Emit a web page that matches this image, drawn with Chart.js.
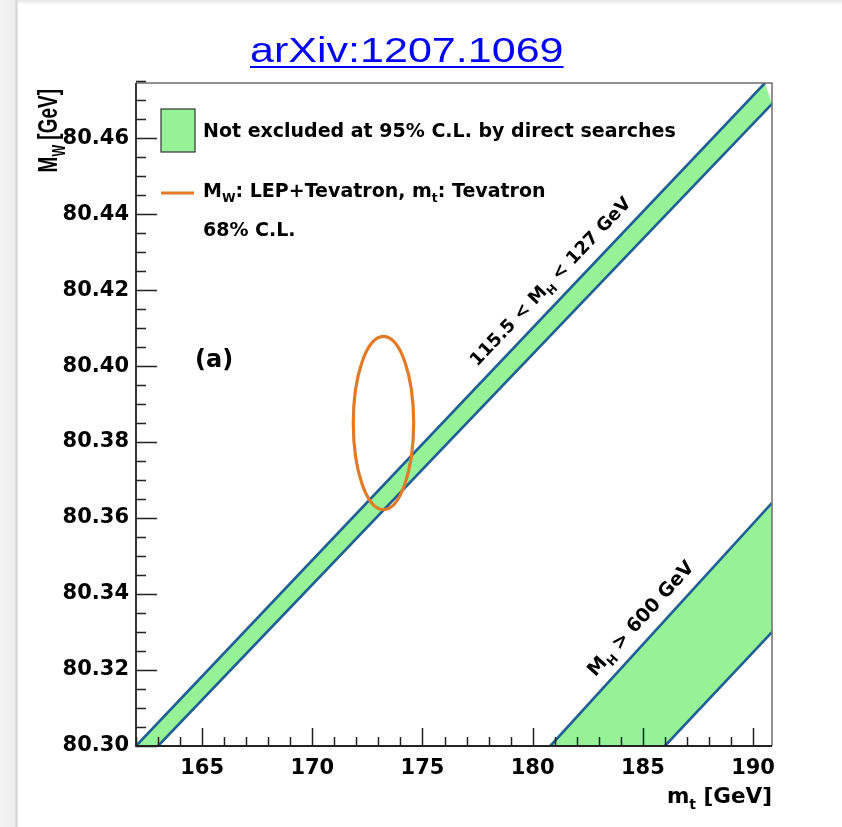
<!DOCTYPE html>
<html>
<head>
<meta charset="utf-8">
<script src="https://cdn.jsdelivr.net/npm/chart.js@4.4.1/dist/chart.umd.min.js"></script>
<style>
  html, body { margin: 0; padding: 0; background: #ffffff; }
  #wrap { position: relative; width: 842px; height: 827px; overflow: hidden; background: #fff; }
  #shadeTop { position: absolute; left: 0; top: 0; width: 842px; height: 5px; background: linear-gradient(#e6e6e6, #ffffff); }
  #shadeLeft { position: absolute; left: 0; top: 0; width: 18px; height: 827px; background: linear-gradient(90deg, #f4f4f4, #ececec 80%, #d0d0d0 95%, #ffffff); }
  #chartBox { position: absolute; left: 0; top: 0; width: 842px; height: 827px; }
  #title { position: absolute; left: 250px; top: 32px; font-family: "Liberation Sans", Arial, sans-serif; font-size: 35px; line-height: 35px; color: #0000ff; text-decoration: underline; text-decoration-thickness: 2px; text-underline-offset: 4px; white-space: nowrap; transform: scaleX(1.23); transform-origin: left top; }
</style>
</head>
<body>
<div id="wrap">
  <div id="shadeTop"></div>
  <div id="shadeLeft"></div>
  <div id="chartBox"><canvas id="c"></canvas></div>
  <div id="title">arXiv:1207.1069</div>
</div>
<script>
// ---------------- data ----------------
const mtRange = [162.0, 190.86];          // x axis (m_t, GeV)
const mwRange = [80.30, 80.4745];         // y axis (M_W, GeV)
const xTickValues = [165, 170, 175, 180, 185, 190];
const yTickValues = [80.30, 80.32, 80.34, 80.36, 80.38, 80.40, 80.42, 80.44, 80.46];
const xMinorStep = 1;
const yMinorStep = 0.005;

// 115.5 < M_H < 127 GeV band edges
const lightBandUpper = [{x: 162.0, y: 80.300}, {x: 190.54, y: 80.4745}];
const lightBandLower = [{x: 163.0, y: 80.300}, {x: 190.86, y: 80.4690}];
// M_H > 600 GeV band edges
const heavyBandUpper = [{x: 180.8, y: 80.300}, {x: 190.86, y: 80.364}];
const heavyBandLower = [{x: 186.0, y: 80.300}, {x: 190.86, y: 80.330}];
// 68% C.L. ellipse: centre and half-axes
const ellipseCentre = {mt: 173.23, mw: 80.385};
const ellipseHalfAxes = {mt: 1.37, mw: 0.0228};
// label anchor points (data coordinates)
const lightLabelAt = {mt: 180.78, mw: 80.4224};
const heavyLabelAt = {mt: 184.87, mw: 80.3337};

const GREEN = '#96f296';
const EDGE = '#1e5f96';
const ORANGE = '#e27a28';
const FONT = '"DejaVu Sans", "Liberation Sans", sans-serif';
const HFONT = '"Liberation Sans", Arial, sans-serif';

function polygon(upper, lower) {
  const pts = upper.concat(lower.slice().reverse());
  return pts;
}

// draw text with subscripts: parts = [[text, isSub], ...]
function richWidth(ctx, parts, size, fam) {
  let w = 0;
  for (const [t, sub] of parts) {
    ctx.font = 'bold ' + (sub ? size * 0.65 : size) + 'px ' + (fam || FONT);
    w += ctx.measureText(t).width;
  }
  return w;
}
function richText(ctx, parts, x, y, size, align, fam) {
  const w = richWidth(ctx, parts, size, fam);
  let cx = align === 'right' ? x - w : (align === 'center' ? x - w / 2 : x);
  ctx.textAlign = 'left';
  ctx.textBaseline = 'alphabetic';
  for (const [t, sub] of parts) {
    const s = sub ? size * 0.65 : size;
    ctx.font = 'bold ' + s + 'px ' + (fam || FONT);
    ctx.fillText(t, cx, sub ? y + size * 0.28 : y);
    cx += ctx.measureText(t).width;
  }
}

const decorPlugin = {
  id: 'decor',
  afterDatasetsDraw(chart) {
    const ctx = chart.ctx;
    const xs = chart.scales.x, ys = chart.scales.y;
    const a = chart.chartArea;
    ctx.save();
    ctx.beginPath();
    ctx.rect(a.left, a.top, a.right - a.left, a.bottom - a.top);
    ctx.clip();
    // ellipse
    const cx = xs.getPixelForValue(ellipseCentre.mt);
    const cy = ys.getPixelForValue(ellipseCentre.mw);
    const rx = Math.abs(xs.getPixelForValue(ellipseCentre.mt + ellipseHalfAxes.mt) - cx);
    const ry = Math.abs(ys.getPixelForValue(ellipseCentre.mw + ellipseHalfAxes.mw) - cy);
    ctx.beginPath();
    ctx.ellipse(cx, cy, rx, ry, 0, 0, Math.PI * 2);
    ctx.strokeStyle = ORANGE;
    ctx.lineWidth = 3.2;
    ctx.stroke();
    ctx.restore();
  },
  afterDraw(chart) {
    const ctx = chart.ctx;
    const xs = chart.scales.x, ys = chart.scales.y;
    const a = chart.chartArea;
    ctx.save();
    // frame
    ctx.strokeStyle = '#6e6e6e';
    ctx.lineWidth = 1.5;
    ctx.beginPath();
    ctx.moveTo(a.left, a.top); ctx.lineTo(a.right, a.top); ctx.lineTo(a.right, a.bottom);
    ctx.stroke();
    ctx.strokeStyle = '#222';
    ctx.lineWidth = 1.8;
    ctx.beginPath();
    ctx.moveTo(a.left, a.top); ctx.lineTo(a.left, a.bottom); ctx.lineTo(a.right, a.bottom);
    ctx.stroke();
    // ticks (inside, ROOT style)
    ctx.strokeStyle = '#222';
    ctx.lineWidth = 1.5;
    ctx.beginPath();
    const x0 = Math.ceil(mtRange[0]);
    for (let v = x0; v <= mtRange[1] + 1e-9; v += xMinorStep) {
      const px = Math.round(xs.getPixelForValue(v)) + 0.5;
      const major = xTickValues.indexOf(v) >= 0;
      ctx.moveTo(px, a.bottom);
      ctx.lineTo(px, a.bottom - (major ? 18 : 9));
    }
    const nMinor = Math.round((mwRange[1] - mwRange[0]) / yMinorStep);
    for (let i = 0; i <= nMinor; i++) {
      const v = mwRange[0] + i * yMinorStep;
      const py = Math.round(ys.getPixelForValue(v)) + 0.5;
      const major = (i % 4) === 0;
      ctx.moveTo(a.left, py);
      ctx.lineTo(a.left + (major ? 21 : 10), py);
    }
    ctx.stroke();

    ctx.fillStyle = '#000';
    // axis titles
    richText(ctx, [['m', false], ['t', true], [' [GeV]', false]], a.right, 803, 21.5, 'right');
    ctx.save();
    ctx.translate(57, 89);
    ctx.rotate(-Math.PI / 2);
    ctx.scale(1, 1.5);
    richText(ctx, [['M', false], ['W', true], [' [GeV]', false]], 0, 0, 19, 'right', HFONT);
    ctx.restore();

    // legend
    ctx.fillStyle = GREEN;
    ctx.fillRect(161, 109, 34, 43);
    ctx.strokeStyle = '#333';
    ctx.lineWidth = 1.2;
    ctx.strokeRect(161, 109, 34, 43);
    ctx.fillStyle = '#000';
    richText(ctx, [['Not excluded at 95% C.L. by direct searches', false]], 203, 137, 19, 'left');
    ctx.strokeStyle = ORANGE;
    ctx.lineWidth = 3;
    ctx.beginPath();
    ctx.moveTo(161, 193); ctx.lineTo(194, 193);
    ctx.stroke();
    richText(ctx, [['M', false], ['W', true], [': LEP+Tevatron, m', false], ['t', true], [': Tevatron', false]], 203, 197, 19, 'left');
    richText(ctx, [['68% C.L.', false]], 203, 236, 19, 'left');
    richText(ctx, [['(a)', false]], 195, 367, 24, 'left');

    // rotated band labels
    function bandLabel(parts, at, edge, size) {
      const p1x = xs.getPixelForValue(edge[0].x), p1y = ys.getPixelForValue(edge[0].y);
      const p2x = xs.getPixelForValue(edge[1].x), p2y = ys.getPixelForValue(edge[1].y);
      const ang = Math.atan2(p2y - p1y, p2x - p1x);
      ctx.save();
      ctx.translate(xs.getPixelForValue(at.mt), ys.getPixelForValue(at.mw));
      ctx.rotate(ang);
      richText(ctx, parts, 0, size * 0.36, size, 'center');
      ctx.restore();
    }
    bandLabel([['115.5 < M', false], ['H', true], [' < 127 GeV', false]], lightLabelAt, lightBandUpper, 18);
    bandLabel([['M', false], ['H', true], [' > 600 GeV', false]], heavyLabelAt, heavyBandUpper, 19);
    ctx.restore();
  }
};

const edgeStyle = (data) => ({
  data, borderColor: EDGE, borderWidth: 2.6, pointRadius: 0, fill: false, clip: 0, tension: 0, order: 1
});
const fillStyle = (data) => ({
  data, backgroundColor: GREEN, borderWidth: 0, pointRadius: 0, fill: 'shape', clip: 0, order: 10
});

new Chart(document.getElementById('c'), {
  type: 'line',
  data: {
    datasets: [
      fillStyle(polygon(lightBandUpper, lightBandLower)),
      fillStyle(polygon(heavyBandUpper, heavyBandLower)),
      edgeStyle(lightBandUpper),
      edgeStyle(lightBandLower),
      edgeStyle(heavyBandUpper),
      edgeStyle(heavyBandLower)
    ]
  },
  options: {
    responsive: true,
    maintainAspectRatio: false,
    animation: false,
    events: [],
    layout: {padding: {left: 0, right: 70, top: 83, bottom: 0}},
    plugins: {legend: {display: false}, tooltip: {enabled: false}, title: {display: false}},
    scales: {
      x: {
        type: 'linear', min: mtRange[0], max: mtRange[1],
        grid: {display: false, drawTicks: false},
        border: {display: false},
        afterFit: (s) => { s.height = 81; },
        afterBuildTicks: (s) => { s.ticks = xTickValues.map(v => ({value: v})); },
        ticks: {color: '#000', padding: 10, maxRotation: 0, autoSkip: false,
          font: {family: FONT, weight: 'bold', size: 21},
          callback: (v) => String(v)}
      },
      y: {
        type: 'linear', min: mwRange[0], max: mwRange[1],
        grid: {display: false, drawTicks: false},
        border: {display: false},
        afterFit: (s) => { s.width = 136; },
        afterBuildTicks: (s) => { s.ticks = yTickValues.map(v => ({value: v})); },
        ticks: {color: '#000', padding: 7, autoSkip: false,
          font: {family: FONT, weight: 'bold', size: 21},
          callback: (v) => Number(v).toFixed(2)}
      }
    }
  },
  plugins: [decorPlugin]
});
</script>
</body>
</html>
